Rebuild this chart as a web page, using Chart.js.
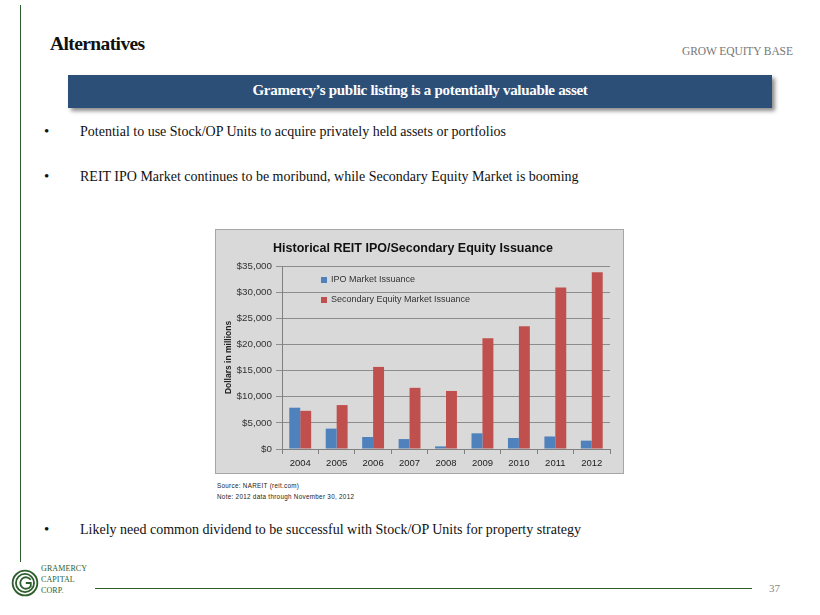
<!DOCTYPE html>
<html>
<head>
<meta charset="utf-8">
<script src="https://cdn.jsdelivr.net/npm/chart.js@4"></script>
<style>
  html, body { margin:0; padding:0; background:#fff; }
  body { width:820px; height:615px; position:relative; overflow:hidden; font-family:"Liberation Serif", serif; }
  .abs { position:absolute; }
  #vline { left:20px; top:5px; width:1px; height:557px; background:#2e5e2e; }
  #title { left:50px; top:33px; font-size:19.5px; font-weight:bold; color:#111; letter-spacing:-0.6px; }
  #grow { left:682px; top:45px; font-size:11.5px; color:#777; letter-spacing:-0.1px; }
  #banner { left:68px; top:75px; width:704px; height:33px; background:#2c4f78; box-shadow:3px 3px 4px rgba(0,0,0,0.45); color:#fff; font-size:15px; font-weight:bold; text-align:center; line-height:31px; letter-spacing:-0.3px; }
  .bullet { left:44px; font-size:14px; color:#111; }
  .bullet span.dot { display:inline-block; width:36px; font-size:15px; }
  #chartbox { left:215px; top:229px; width:407px; height:243px; background:#d9d9d9; border:1px solid #a6a6a6; }
  #src { left:217px; top:480px; font-family:"Liberation Sans", sans-serif; font-size:6.3px; letter-spacing:0.3px; color:#222; line-height:11px; }
  #footline { left:95px; top:588px; width:657px; height:1px; background:#2e5e2e; }
  #page { left:769px; top:582px; font-size:11px; color:#888; }
  #logo { left:11px; top:569px; }
  #logotext { left:41px; top:563px; font-size:8px; line-height:11px; color:#2e5e2e; letter-spacing:0.1px; }
</style>
</head>
<body>
<div id="vline" class="abs"></div>
<div id="title" class="abs">Alternatives</div>
<div id="grow" class="abs">GROW EQUITY BASE</div>
<div id="banner" class="abs">Gramercy’s public listing is a potentially valuable asset</div>
<div class="abs bullet" style="top:123px;"><span class="dot">•</span>Potential to use Stock/OP Units to acquire privately held assets or portfolios</div>
<div class="abs bullet" style="top:168px;"><span class="dot">•</span>REIT IPO Market continues to be moribund, while Secondary Equity Market is booming</div>
<div class="abs bullet" style="top:521px;"><span class="dot">•</span>Likely need common dividend to be successful with Stock/OP Units for property strategy</div>

<div id="chartbox" class="abs"><canvas id="c" width="407" height="243"></canvas></div>
<div id="src" class="abs">Source: NAREIT (reit.com)<br>Note: 2012 data through November 30, 2012</div>

<svg id="logo" class="abs" width="28" height="28" viewBox="0 0 34 34">
  <g fill="none" stroke="#2e5e2e" stroke-width="2.2">
    <circle cx="17" cy="17" r="15"/>
    <circle cx="17" cy="17" r="11"/>
    <path d="M24 13 A7 7 0 1 0 24 21 L24 17 L18 17"/>
  </g>
</svg>
<div id="logotext" class="abs">GRAMERCY<br>CAPITAL<br>CORP.</div>
<div id="footline" class="abs"></div>
<div id="page" class="abs">37</div>

<script>
const years = ["2004","2005","2006","2007","2008","2009","2010","2011","2012"];
const ipoIssuance = [7900, 3900, 2300, 1900, 500, 3000, 2100, 2400, 1600];
const secondaryIssuance = [7300, 8400, 15700, 11700, 11100, 21200, 23500, 30900, 33800];
const yTicks = [0, 5000, 10000, 15000, 20000, 25000, 30000, 35000];

const legendInside = {
  id: 'legendInside',
  afterDraw(chart) {
    const ctx = chart.ctx;
    const a = chart.chartArea;
    ctx.save();
    ctx.font = '9px "Liberation Sans", sans-serif';
    ctx.textBaseline = 'middle';
    chart.data.datasets.forEach((ds, i) => {
      const x = a.left + 39;
      const y = a.top + 14 + i * 20;
      ctx.fillStyle = ds.backgroundColor;
      ctx.fillRect(x, y - 3, 6, 6);
      ctx.fillStyle = '#333';
      ctx.fillText(ds.label, x + 10, y);
    });
    ctx.restore();
  }
};

new Chart(document.getElementById('c'), {
  type: 'bar',
  data: {
    labels: years,
    datasets: [
      { label: 'IPO Market Issuance', data: ipoIssuance, backgroundColor: '#4f81bd' },
      { label: 'Secondary Equity Market Issuance', data: secondaryIssuance, backgroundColor: '#c0504d' }
    ]
  },
  options: {
    responsive: false,
    animation: false,
    devicePixelRatio: 1,
    datasets: { bar: { categoryPercentage: 0.6, barPercentage: 1.0 } },
    layout: { padding: { left: 0, right: 13, top: 0, bottom: 0 } },
    plugins: {
      legend: { display: false },
      tooltip: { enabled: false },
      title: {
        display: true,
        text: 'Historical REIT IPO/Secondary Equity Issuance',
        color: '#111',
        font: { family: '"Liberation Sans", sans-serif', size: 12.5, weight: 'bold' },
        padding: { top: 11, bottom: 10 }
      }
    },
    scales: {
      x: {
        grid: { display: true, drawOnChartArea: false, offset: true, color: '#808080', tickLength: 5 },
        border: { color: '#808080' },
        ticks: { color: '#222', font: { family: '"Liberation Sans", sans-serif', size: 9.5 }, padding: 4 },
        afterFit(s) { s.height = 24; }
      },
      y: {
        min: 0, max: 35000,
        afterBuildTicks(s) { s.ticks = yTicks.map(v => ({ value: v })); },
        grid: { color: '#8c8c8c', tickLength: 6 },
        border: { color: '#808080' },
        ticks: {
          color: '#333',
          font: { family: '"Liberation Sans", sans-serif', size: 9.8 },
          padding: 4,
          callback: v => '$' + v.toLocaleString('en-US')
        },
        title: {
          display: true, text: 'Dollars in millions', color: '#222',
          font: { family: '"Liberation Sans", sans-serif', size: 8.5, weight: 'bold' },
          padding: { top: 8, bottom: 4 }
        },
        afterFit(s) { s.width = 66; }
      }
    }
  },
  plugins: [legendInside]
});
</script>
</body>
</html>
